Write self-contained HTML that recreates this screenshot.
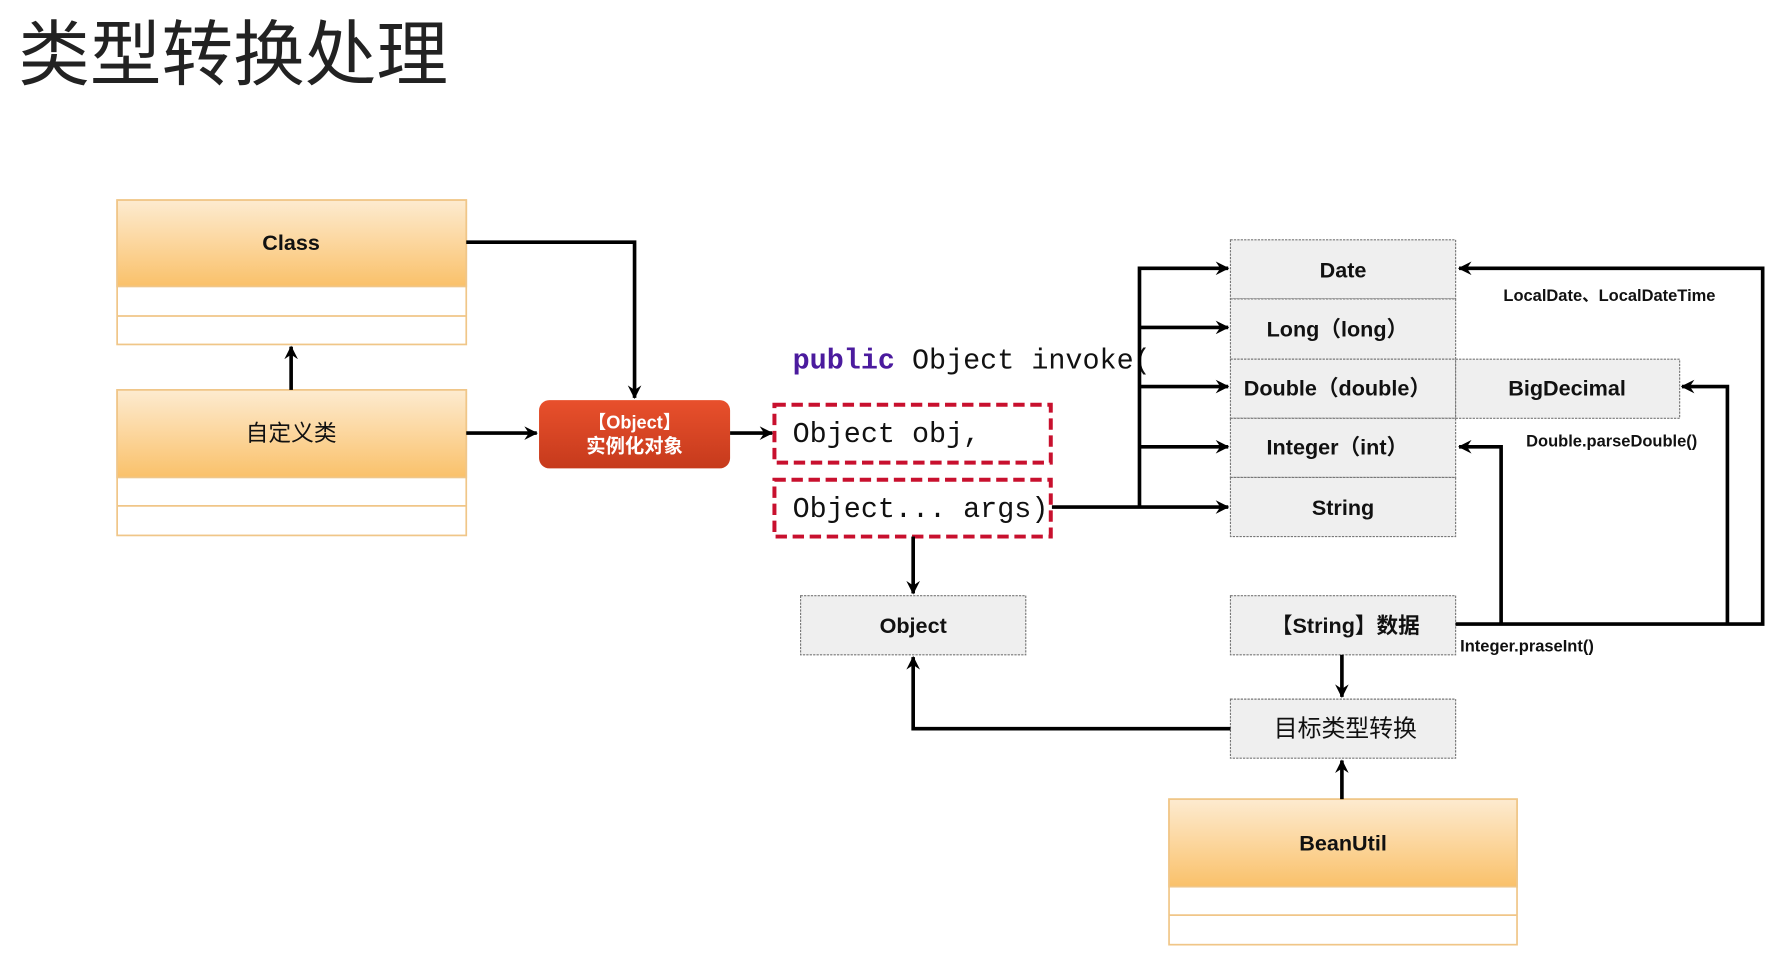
<!DOCTYPE html>
<html><head><meta charset="utf-8">
<style>
html,body{margin:0;padding:0;background:#fff;}
svg{display:block;}
text{font-family:"Liberation Sans","Noto Sans CJK SC",sans-serif;}
.b{font-weight:bold;font-size:19px;fill:#111;}
.m{font-family:"Liberation Mono","Noto Sans CJK SC",monospace;font-size:25px;fill:#111;}
.s{font-weight:bold;font-size:14.5px;fill:#111;}
</style></head>
<body>
<svg width="1782" height="964" viewBox="0 0 1567 848" preserveAspectRatio="none" xmlns="http://www.w3.org/2000/svg">
<defs>
<linearGradient id="og" x1="0" y1="0" x2="0" y2="1">
<stop offset="0" stop-color="#fdebd0"/><stop offset="1" stop-color="#fac16a"/>
</linearGradient>
<linearGradient id="rg" x1="0" y1="0" x2="0" y2="1">
<stop offset="0" stop-color="#e8502c"/><stop offset="1" stop-color="#c63a1c"/>
</linearGradient>
<marker id="a" markerWidth="12" markerHeight="12" refX="11" refY="6" orient="auto" markerUnits="userSpaceOnUse">
<path d="M0,0 L12,6 L0,12 L4,6 z" fill="#000"/>
</marker>
</defs>
<rect width="1567" height="848" fill="#fff"/>
<text x="16" y="70" style="font-size:63px;fill:#222;font-family:'Noto Sans CJK SC',sans-serif">类型转换处理</text>

<g stroke="#f0c688" stroke-width="1.5">
<rect x="103" y="176" width="307" height="127" fill="#fff"/>
<rect x="103" y="176" width="307" height="76" fill="url(#og)"/>
<line x1="103" y1="278" x2="410" y2="278"/>
<rect x="103" y="343" width="307" height="128" fill="#fff"/>
<rect x="103" y="343" width="307" height="77" fill="url(#og)"/>
<line x1="103" y1="445" x2="410" y2="445"/>
<rect x="1028" y="703" width="306" height="128" fill="#fff"/>
<rect x="1028" y="703" width="306" height="77" fill="url(#og)"/>
<line x1="1028" y1="805" x2="1334" y2="805"/>
</g>
<text class="b" x="256" y="220" text-anchor="middle">Class</text>
<text class="b" x="256" y="388" text-anchor="middle" style="font-weight:normal;font-size:20px">自定义类</text>
<text class="b" x="1181" y="748" text-anchor="middle">BeanUtil</text>

<rect x="474" y="352" width="168" height="60" rx="9" fill="url(#rg)"/>
<text x="558" y="377" text-anchor="middle" style="font-size:16px;font-weight:bold;fill:#fff">【Object】</text>
<text x="558" y="398" text-anchor="middle" style="font-size:17px;font-weight:bold;fill:#fff">实例化对象</text>

<text class="m" x="697" y="324"><tspan fill="#4b1b9e" font-weight="bold">public</tspan> Object invoke(</text>
<rect x="681" y="356" width="243" height="51" fill="none" stroke="#c8102e" stroke-width="3.5" stroke-dasharray="10,5"/>
<rect x="681" y="422" width="243" height="50" fill="none" stroke="#c8102e" stroke-width="3.5" stroke-dasharray="10,5"/>
<text class="m" x="697" y="389">Object obj,</text>
<text class="m" x="697" y="455">Object... args)</text>

<g fill="#efefef" stroke="#777" stroke-width="1" stroke-dasharray="2,1">
<rect x="1082" y="211" width="198" height="52"/>
<rect x="1082" y="263" width="198" height="53"/>
<rect x="1082" y="316" width="198" height="52"/>
<rect x="1082" y="368" width="198" height="52"/>
<rect x="1082" y="420" width="198" height="52"/>
<rect x="1280" y="316" width="197" height="52"/>
<rect x="704" y="524" width="198" height="52"/>
<rect x="1082" y="524" width="198" height="52"/>
<rect x="1082" y="615" width="198" height="52"/>
</g>
<text class="b" x="1181" y="244" text-anchor="middle">Date</text>
<text class="b" x="1176" y="296" text-anchor="middle">Long（long）</text>
<text class="b" x="1176" y="348" text-anchor="middle">Double（double）</text>
<text class="b" x="1176" y="400" text-anchor="middle">Integer（int）</text>
<text class="b" x="1181" y="453" text-anchor="middle">String</text>
<text class="b" x="1378" y="348" text-anchor="middle">BigDecimal</text>
<text class="b" x="803" y="557" text-anchor="middle">Object</text>
<text class="b" x="1183" y="557" text-anchor="middle">【String】数据</text>
<text class="b" x="1183" y="648" text-anchor="middle" style="font-weight:normal;font-size:21px">目标类型转换</text>
<text class="s" x="1322" y="265">LocalDate、LocalDateTime</text>
<text class="s" x="1342" y="393">Double.parseDouble()</text>
<text class="s" x="1284" y="573">Integer.praseInt()</text>

<g stroke="#000" stroke-width="3.2" fill="none">
<line x1="256" y1="343" x2="256" y2="305" marker-end="url(#a)"/>
<polyline points="410,213 558,213 558,350" marker-end="url(#a)"/>
<line x1="410" y1="381" x2="472" y2="381" marker-end="url(#a)"/>
<line x1="642" y1="381" x2="679" y2="381" marker-end="url(#a)"/>
<line x1="925" y1="446" x2="1080" y2="446" marker-end="url(#a)"/>
<polyline points="1002,446 1002,236 1080,236" marker-end="url(#a)"/>
<line x1="1002" y1="288" x2="1080" y2="288" marker-end="url(#a)"/>
<line x1="1002" y1="340" x2="1080" y2="340" marker-end="url(#a)"/>
<line x1="1002" y1="393" x2="1080" y2="393" marker-end="url(#a)"/>
<line x1="803" y1="472" x2="803" y2="522" marker-end="url(#a)"/>
<polyline points="1280,549 1550,549 1550,236 1283,236" marker-end="url(#a)"/>
<polyline points="1519,549 1519,340 1479,340" marker-end="url(#a)"/>
<polyline points="1320,549 1320,393 1283,393" marker-end="url(#a)"/>
<line x1="1180" y1="576" x2="1180" y2="613" marker-end="url(#a)"/>
<line x1="1180" y1="703" x2="1180" y2="669" marker-end="url(#a)"/>
<polyline points="1082,641 803,641 803,578" marker-end="url(#a)"/>
</g>
</svg>
</body></html>
